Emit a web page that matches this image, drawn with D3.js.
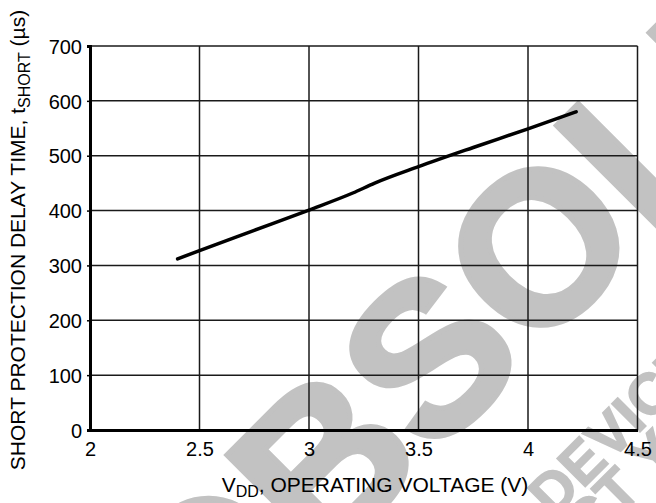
<!DOCTYPE html>
<html>
<head>
<meta charset="utf-8">
<script src="https://cdn.jsdelivr.net/npm/d3@7"></script>
<style>
  html, body { margin: 0; padding: 0; background: #fff; }
  svg { display: block; font-family: "Liberation Sans", Arial, sans-serif; }
</style>
</head>
<body>
<svg id="chart" width="656" height="503"></svg>
<script>
const vdd    = [2.4, 2.5, 2.75, 3.0, 3.2, 3.3, 3.5, 3.75, 4.0, 4.22];
const tshort = [312, 327, 364, 401, 432, 450, 480, 515, 549, 580];
const xTicks = [2, 2.5, 3, 3.5, 4, 4.5];
const xTickLabels = ["2", "2.5", "3", "3.5", "4", "4.5"];
const yTicks = [0, 100, 200, 300, 400, 500, 600, 700];
const yTickLabels = ["0", "100", "200", "300", "400", "500", "600", "700"];

const svg = d3.select("#chart");
const W = 656, H = 503;
const m = {left: 90, right: 18.5, top: 46, bottom: 73};
const x = d3.scaleLinear().domain([2, 4.5]).range([m.left, W - m.right]);
const y = d3.scaleLinear().domain([0, 700]).range([H - m.bottom, m.top]);

// watermark (behind everything)
const wm = svg.append("g").attr("fill", "#c2c2c2").attr("stroke", "#c2c2c2")
  .attr("stroke-linejoin", "miter").attr("font-weight", "bold")
  .attr("font-family", "Liberation Sans, Arial, sans-serif");
wm.append("text").attr("transform", "translate(203,688) rotate(-45)")
  .attr("stroke-width", 5).attr("font-size", 215).text("OBSOLETE");
wm.append("text").attr("transform", "translate(553,519) rotate(-45)")
  .attr("stroke-width", 1.5).attr("font-size", 58).text("DEVICE");
wm.append("text").attr("transform", "translate(446,690) rotate(-45)")
  .attr("stroke-width", 1.5).attr("font-size", 58).text("CONTACT YOUR");

// grid
const g = svg.append("g");
g.selectAll(".vg").data(xTicks.slice(1, -1)).enter().append("line")
  .attr("x1", d => x(d)).attr("x2", d => x(d))
  .attr("y1", y(0)).attr("y2", y(700))
  .attr("stroke", "#1a1a1a").attr("stroke-width", 1.5);
g.selectAll(".hg").data(yTicks.slice(1, -1)).enter().append("line")
  .attr("x1", x(2)).attr("x2", x(4.5))
  .attr("y1", d => y(d)).attr("y2", d => y(d))
  .attr("stroke", "#1a1a1a").attr("stroke-width", 1.5);
// top/right frame
g.append("line").attr("x1", x(2)).attr("x2", x(4.5)).attr("y1", y(700)).attr("y2", y(700))
  .attr("stroke", "#1a1a1a").attr("stroke-width", 1.5);
g.append("line").attr("x1", x(4.5)).attr("x2", x(4.5)).attr("y1", y(0)).attr("y2", y(700))
  .attr("stroke", "#1a1a1a").attr("stroke-width", 1.5);

// axes
const xAxis = d3.axisBottom(x).tickValues(xTicks).tickSize(0).tickPadding(12)
  .tickFormat((d, i) => xTickLabels[i]);
const yAxis = d3.axisLeft(y).tickValues(yTicks).tickSize(3).tickPadding(5)
  .tickFormat((d, i) => yTickLabels[i]);
const gx = svg.append("g").attr("transform", `translate(0,${y(0)})`).call(xAxis);
const gy = svg.append("g").attr("transform", `translate(${x(2)},0)`).call(yAxis);
[gx, gy].forEach(a => {
  a.select(".domain").attr("stroke", "#000").attr("stroke-width", 3);
  a.selectAll(".tick line").attr("stroke", "#000").attr("stroke-width", 1.5);
  a.selectAll("text").attr("font-family", "Liberation Sans, Arial, sans-serif")
    .attr("font-size", 20).attr("fill", "#000");
});
gy.selectAll("text").attr("dy", "0.36em");

// line
svg.append("path").datum(vdd.map((v, i) => [v, tshort[i]]))
  .attr("fill", "none").attr("stroke", "#000").attr("stroke-width", 3.5)
  .attr("stroke-linecap", "round").attr("stroke-linejoin", "round")
  .attr("d", d3.line().curve(d3.curveMonotoneX).x(d => x(d[0])).y(d => y(d[1])));

// axis titles
const xt = svg.append("text").attr("x", 375).attr("y", 492)
  .attr("text-anchor", "middle").attr("font-size", 21).attr("fill", "#000");
xt.append("tspan").text("V");
xt.append("tspan").attr("font-size", 16).attr("dy", 5).text("DD");
xt.append("tspan").attr("dy", -5).text(", OPERATING VOLTAGE (V)");

const yt = svg.append("text").attr("transform", `translate(25,240) rotate(-90)`)
  .attr("text-anchor", "middle").attr("font-size", 21).attr("fill", "#000");
yt.append("tspan").text("SHORT PROTECTION DELAY TIME, t");
yt.append("tspan").attr("font-size", 16).attr("dy", 5).text("SHORT");
yt.append("tspan").attr("dy", -5).text(" (\u00b5s)");
</script>
</body>
</html>
